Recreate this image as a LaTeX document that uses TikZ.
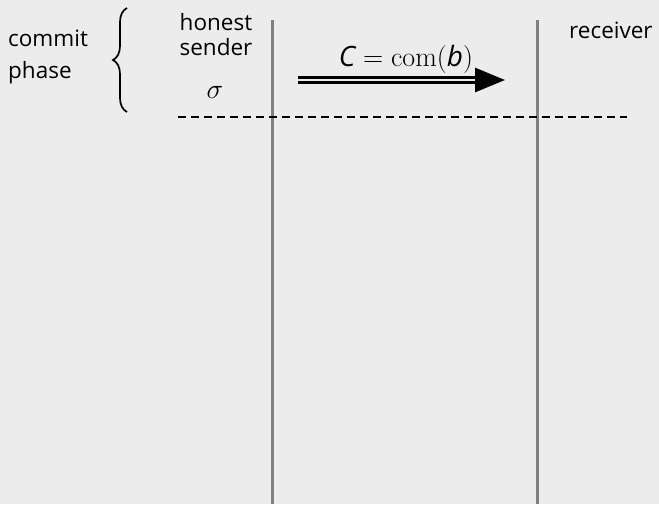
\RequirePackage{fix-cm}
\documentclass[tikz,border=0pt]{standalone}
\usepackage[no-math]{fontspec}
\setmainfont{Open Sans}
\usetikzlibrary{decorations.pathreplacing,arrows.meta}
\definecolor{bg}{HTML}{ECECEC}
\definecolor{lifeline}{HTML}{808080}
\begin{document}
\begin{tikzpicture}[x=1pt,y=-1pt,
  lbl/.style={inner sep=0pt,font=\fontsize{22.5}{26}\selectfont},
  mlbl/.style={inner sep=0pt,font=\fontsize{28}{32}\selectfont},
  life/.style={draw=lifeline,line width=3pt},
  sep/.style={draw=black,line width=1.5pt,dash pattern=on 8pt off 5pt}]
  \fill[bg] (0,0) rectangle (659,504);
  \useasboundingbox (0,0) rectangle (659,504);
  % party lifelines
  \coordinate (s0) at (272,20);  \coordinate (s1) at (272,504);
  \coordinate (r0) at (537,20);  \coordinate (r1) at (537,504);
  \draw[life] (s0) -- (s1);
  \draw[life] (r0) -- (r1);
  % end of the commit phase
  \coordinate (d0) at (178,117); \coordinate (d1) at (627,117);
  \draw[sep] (d0) -- (d1);
  % labels
  \node[lbl,anchor=west] (commit) at (8,38) {commit};
  \node[lbl,anchor=west] (phase) at (8,73) {phase};
  \coordinate (b0) at (127,112); \coordinate (b1) at (127,8);
  \draw[line width=1.7pt,decorate,decoration={brace,amplitude=14pt,aspect=0.5}] (b0) -- (b1);
  \node[lbl] (honest) at (216,22) {honest};
  \node[lbl] (sender) at (216,47) {sender};
  \node[mlbl] (sigma) at (215,92) {$\sigma$};
  \node[lbl,anchor=west] (recv) at (569,30) {receiver};
  % message
  \coordinate (m0) at (298,80); \coordinate (m1) at (505,80);
  \draw[double=bg,draw=black,line width=3pt,double distance=2pt,
        -{Triangle[length=30pt,width=24pt,fill=black]}] (m0) -- (m1);
  \node[mlbl] (msg) at (406,59) {$\textit{C} = \mathrm{com}(\textit{b})$};
\end{tikzpicture}
\end{document}
